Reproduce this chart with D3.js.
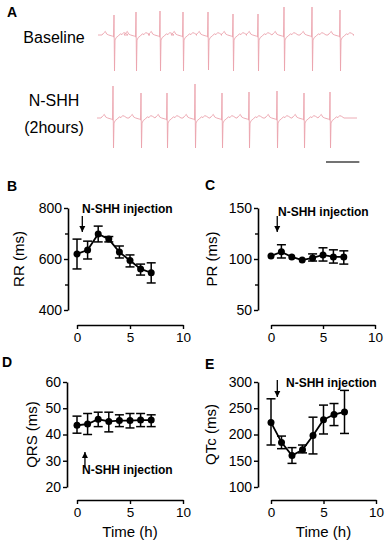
<!DOCTYPE html>
<html>
<head>
<meta charset="utf-8">
<script src="https://cdn.jsdelivr.net/npm/d3@7"></script>
<style>
  body { margin: 0; background: #fff; }
  text { font-family: Arial, "Liberation Sans", sans-serif; fill: #000; }
</style>
</head>
<body>
<svg id="fig" width="387" height="544"></svg>
<script>
// ---- panel A: ECG traces (ms, mV) ----
let beatTemplate = [
    [-72, 0], [-62, 0.1], [-52, 0.18], [-44, 0.05], [-32, 0], [-8, -0.06], [-3, -0.1],
    [0, 'R'], [3, 'S'], [6, -0.25], [14, -0.12], [26, -0.05], [38, 0.06], [48, 0.02],
    [58, 0.12], [70, 0.08], [84, 0]
];
let baselineBeats = [96, 228, 372, 510, 660, 810, 960, 1116, 1284, 1452];
let baselineR = [1.0, 1.15, 1.2, 1.15, 1.15, 1.05, 1.05, 1.4, 1.4, 1.25];
let baselineS = [1.8, 1.8, 1.8, 1.8, 1.75, 1.8, 1.8, 1.8, 1.8, 1.8];
let nshhBeats = [96, 264, 420, 588, 750, 912, 1080, 1242, 1398];
let nshhR = [1.6, 1.25, 1.25, 1.7, 1.25, 1.3, 1.35, 1.25, 1.3];
let nshhS = [1.5, 1.5, 1.5, 1.5, 1.5, 1.5, 1.5, 1.5, 1.5];

// ---- panels B-E: time course ----
let hours = [0, 1, 2, 3, 4, 5, 6, 7];
let rrMean = [620, 635, 698, 678, 627, 594, 561, 546];
let rrLow = [561, 600, 667, 667, 604, 569, 537, 506];
let rrHigh = [678, 670, 729, 688, 651, 616, 580, 585];
let prMean = [103, 107, 102, 99, 101, 104, 102, 102];
let prLow = [103, 101, 102, 99, 98, 98, 96, 95];
let prHigh = [103, 114, 102, 99, 105, 111, 109, 108];
let qrsMean = [43.5, 44, 45.8, 45, 45.3, 45.3, 45.5, 45.5];
let qrsLow = [40.5, 40, 43, 41, 43, 42.5, 43, 43];
let qrsHigh = [47, 48, 48.5, 48.5, 47.5, 48, 48, 47.5];
let qtcMean = [223, 185, 160, 171, 198, 228, 238, 243];
let qtcLow = [180, 173, 145, 165, 163, 201, 217, 202];
let qtcHigh = [268, 197, 175, 180, 233, 256, 259, 284];
let xTicks = [0, 5, 10];

let svg = d3.select('#fig');

// panel letters
[['A', 7, 17], ['B', 7, 191], ['C', 205, 190], ['D', 2, 367], ['E', 205, 369]].forEach(function (l) {
    svg.append('text').attr('x', l[1]).attr('y', l[2])
        .style('font-size', '14px').style('font-weight', 'bold').text(l[0]);
});

// ECG
let ecgX = d3.scaleLinear().domain([0, 6]).range([0, 1]); // 6 ms per px
let ecgY = d3.scaleLinear().domain([-1, 1]).range([20, -20]);
let ecgLine = d3.line().x(d => ecgX(d[0])).y(d => ecgY(d[1]));

function tracePoints(beats, rAmp, sAmp, duration) {
    let pts = [[0, 0]];
    beats.forEach(function (b, i) {
        beatTemplate.forEach(function (p) {
            let v = p[1] === 'R' ? rAmp[i] : p[1] === 'S' ? -sAmp[i] : p[1];
            pts.push([b + p[0], v]);
        });
    });
    pts.push([duration, 0]);
    return pts;
}

function drawTrace(x0, y0, beats, rAmp, sAmp, duration) {
    svg.append('path')
        .attr('transform', 'translate(' + x0 + ',' + y0 + ')')
        .attr('d', ecgLine(tracePoints(beats, rAmp, sAmp, duration)))
        .attr('fill', 'none')
        .attr('stroke', '#eba3ad')
        .attr('stroke-width', 0.9);
}
drawTrace(98, 35, baselineBeats, baselineR, baselineS, 1530);
drawTrace(97, 118, nshhBeats, nshhR, nshhS, 1560);

// scale bar
svg.append('line').attr('x1', 326).attr('x2', 326 + ecgX(200)).attr('y1', 162).attr('y2', 162)
    .attr('stroke', '#444').attr('stroke-width', 1.5);

svg.append('text').attr('x', 54).attr('y', 43).attr('text-anchor', 'middle')
    .style('font-size', '16px').text('Baseline');
svg.append('text').attr('x', 54).attr('y', 106).attr('text-anchor', 'middle')
    .style('font-size', '16px').text('N-SHH');
svg.append('text').attr('x', 54).attr('y', 133).attr('text-anchor', 'middle')
    .style('font-size', '16px').text('(2hours)');

function drawPanel(opt) {
    let x = d3.scaleLinear().domain([0, 10]).range(opt.xRange);
    let y = d3.scaleLinear().domain(opt.yDomain).range(opt.yRange);
    let g = svg.append('g');

    // y axis
    let yAxis = d3.axisLeft(y).tickValues(opt.yTicks).tickSize(4).tickSizeOuter(0).tickPadding(2);
    g.append('g').attr('class', 'yax').attr('transform', 'translate(' + opt.yAxisX + ',0)').call(yAxis);
    if (opt.yMinor) {
        g.append('g').attr('transform', 'translate(' + opt.yAxisX + ',0)')
            .call(d3.axisLeft(y).tickValues(opt.yMinor).tickSize(3).tickFormat(''))
            .select('.domain').remove();
    }
    // x axis, detached below
    let xAxis = d3.axisBottom(x).tickValues(xTicks).tickSize(4).tickSizeOuter(0).tickPadding(3);
    g.append('g').attr('class', 'xax').attr('transform', 'translate(0,' + opt.xAxisY + ')').call(xAxis);

    g.selectAll('.domain').attr('stroke', '#000').attr('stroke-width', 1.6);
    g.selectAll('.tick line').attr('stroke', '#000').attr('stroke-width', 1.4);
    g.selectAll('.tick text').style('font-family', 'Arial, "Liberation Sans", sans-serif').attr('fill', '#000');
    g.selectAll('.yax .tick text').style('font-size', '14px');
    g.selectAll('.xax .tick text').style('font-size', '13.5px');

    // y label
    g.append('text')
        .attr('transform', 'translate(' + opt.yLabelX + ',' + (opt.yRange[0] + opt.yRange[1]) / 2 + ') rotate(-90)')
        .attr('text-anchor', 'middle').style('font-size', '15px').text(opt.yLabel);
    if (opt.xLabel) {
        g.append('text').attr('x', (opt.xRange[0] + opt.xRange[1]) / 2).attr('y', opt.xAxisY + 37)
            .attr('text-anchor', 'middle').style('font-size', '15px').text('Time (h)');
    }

    // error bars
    hours.forEach(function (h, i) {
        let cx = x(h);
        if (opt.high[i] - opt.low[i] > 0.5 * (opt.yDomain[1] - opt.yDomain[0]) / 100) {
            g.append('line').attr('x1', cx).attr('x2', cx)
                .attr('y1', y(opt.low[i])).attr('y2', y(opt.high[i]))
                .attr('stroke', '#000').attr('stroke-width', 1.5);
            [opt.low[i], opt.high[i]].forEach(function (v) {
                g.append('line').attr('x1', cx - 4.5).attr('x2', cx + 4.5)
                    .attr('y1', y(v)).attr('y2', y(v))
                    .attr('stroke', '#000').attr('stroke-width', 1.5);
            });
        }
    });

    // mean line
    g.append('path')
        .datum(hours.map((h, i) => [h, opt.mean[i]]))
        .attr('d', d3.line().x(d => x(d[0])).y(d => y(d[1])))
        .attr('fill', 'none').attr('stroke', '#000').attr('stroke-width', 1.8);
    g.selectAll('.pt').data(hours).enter().append('circle')
        .attr('cx', d => x(d)).attr('cy', (d, i) => y(opt.mean[i]))
        .attr('r', 3.5).attr('fill', '#000');

    // injection arrow
    let ax = x(opt.arrowT);
    let a = opt.arrow;
    g.append('line').attr('x1', ax).attr('x2', ax).attr('y1', a.y1).attr('y2', a.y2)
        .attr('stroke', '#000').attr('stroke-width', 1.3);
    let dir = a.y2 > a.y1 ? 1 : -1;
    g.append('path')
        .attr('d', 'M' + (ax - 3) + ',' + (a.y2 - dir * 6) + 'L' + ax + ',' + a.y2 + 'L' + (ax + 3) + ',' + (a.y2 - dir * 6) + 'Z')
        .attr('fill', '#000');
    g.append('text').attr('x', a.tx).attr('y', a.ty)
        .style('font-size', '12px').style('font-weight', 'bold').text('N-SHH injection');
}

drawPanel({
    xRange: [77, 183], yDomain: [400, 800], yRange: [310, 208], yAxisX: 68, xAxisY: 325,
    yTicks: [400, 600, 800], yMinor: [500, 700], yLabel: 'RR (ms)', yLabelX: 24,
    mean: rrMean, low: rrLow, high: rrHigh,
    arrowT: 0.5, arrow: {y1: 216, y2: 232, tx: 82, ty: 213}
});
drawPanel({
    xRange: [271, 375], yDomain: [50, 150], yRange: [310, 208], yAxisX: 258, xAxisY: 325,
    yTicks: [50, 100, 150], yMinor: [75, 125], yLabel: 'PR (ms)', yLabelX: 217,
    mean: prMean, low: prLow, high: prHigh,
    arrowT: 0.6, arrow: {y1: 216, y2: 232, tx: 278, ty: 216}
});
drawPanel({
    xRange: [77, 183], yDomain: [20, 60], yRange: [487, 382], yAxisX: 67, xAxisY: 500,
    yTicks: [20, 30, 40, 50, 60], yLabel: 'QRS (ms)', yLabelX: 37, xLabel: true,
    mean: qrsMean, low: qrsLow, high: qrsHigh,
    arrowT: 0.75, arrow: {y1: 467, y2: 452, tx: 82, ty: 474}
});
drawPanel({
    xRange: [271, 376], yDomain: [100, 300], yRange: [487, 382], yAxisX: 258, xAxisY: 500,
    yTicks: [100, 150, 200, 250, 300], yLabel: 'QTc (ms)', yLabelX: 216, xLabel: true,
    mean: qtcMean, low: qtcLow, high: qtcHigh,
    arrowT: 0.6, arrow: {y1: 380, y2: 397, tx: 286, ty: 387}
});
</script>
</body>
</html>
